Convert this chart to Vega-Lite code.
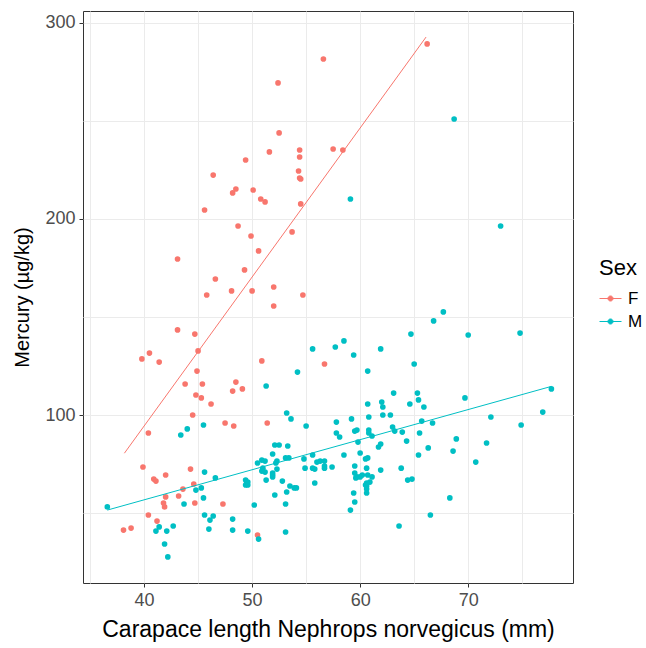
{
 "$schema": "https://vega.github.io/schema/vega-lite/v6.json",
 "width": 490, "height": 572,
 "autosize": "none",
 "padding": {"left": 83, "top": 11, "right": 73, "bottom": 65},
 "background": "white",
 "config": {
  "font": "Liberation Sans",
  "view": {"stroke": "#333333", "strokeWidth": 1},
  "axis": {"domain": false, "gridColor": "#EBEBEB", "gridWidth": 1, "tickColor": "#333333", "tickSize": 4, "labelColor": "#4D4D4D", "labelFontSize": 18, "titleFontWeight": "normal", "titleColor": "#000000", "labelPadding": 4}
 },
 "datasets": {
  "fits": [
   {"length":38.18,"mercury":80.5,"sex":"F"},{"length":66.1,"mercury":292.8,"sex":"F"},
   {"length":36.6,"mercury":51.5,"sex":"M"},{"length":77.7,"mercury":114.6,"sex":"M"}
  ],
  "points": [
  {"length":66.2,"mercury":289.3,"sex":"F"},{"length":56.6,"mercury":281.6,"sex":"F"},{"length":52.4,"mercury":269.4,"sex":"F"},{"length":52.5,"mercury":243.9,"sex":"F"},{"length":51.6,"mercury":234.2,"sex":"F"},{"length":49.4,"mercury":230.1,"sex":"F"},{"length":46.4,"mercury":222.4,"sex":"F"},{"length":48.2,"mercury":213.3,"sex":"F"},{"length":48.5,"mercury":215.3,"sex":"F"},{"length":50.1,"mercury":214.8,"sex":"F"},{"length":50.8,"mercury":210.2,"sex":"F"},{"length":51.2,"mercury":208.7,"sex":"F"},{"length":54.4,"mercury":235.2,"sex":"F"},{"length":54.4,"mercury":231.6,"sex":"F"},{"length":57.5,"mercury":235.7,"sex":"F"},{"length":58.4,"mercury":235.2,"sex":"F"},{"length":54.3,"mercury":224.5,"sex":"F"},{"length":54.4,"mercury":220.9,"sex":"F"},{"length":54.5,"mercury":220.4,"sex":"F"},{"length":45.6,"mercury":204.6,"sex":"F"},{"length":54.5,"mercury":207.7,"sex":"F"},{"length":48.7,"mercury":196.4,"sex":"F"},{"length":49.9,"mercury":191.3,"sex":"F"},{"length":50.6,"mercury":183.7,"sex":"F"},{"length":53.7,"mercury":193.4,"sex":"F"},{"length":43.1,"mercury":179.6,"sex":"F"},{"length":49.3,"mercury":174.0,"sex":"F"},{"length":46.6,"mercury":169.4,"sex":"F"},{"length":48.1,"mercury":163.3,"sex":"F"},{"length":50.0,"mercury":163.3,"sex":"F"},{"length":52.0,"mercury":165.3,"sex":"F"},{"length":45.8,"mercury":161.2,"sex":"F"},{"length":52.0,"mercury":155.6,"sex":"F"},{"length":54.7,"mercury":161.2,"sex":"F"},{"length":43.1,"mercury":143.4,"sex":"F"},{"length":44.7,"mercury":141.3,"sex":"F"},{"length":39.8,"mercury":128.6,"sex":"F"},{"length":40.5,"mercury":131.6,"sex":"F"},{"length":41.4,"mercury":127.0,"sex":"F"},{"length":45.0,"mercury":132.7,"sex":"F"},{"length":50.9,"mercury":127.6,"sex":"F"},{"length":44.9,"mercury":122.4,"sex":"F"},{"length":56.7,"mercury":126.0,"sex":"F"},{"length":43.8,"mercury":115.8,"sex":"F"},{"length":45.4,"mercury":115.8,"sex":"F"},{"length":48.5,"mercury":116.8,"sex":"F"},{"length":48.2,"mercury":112.2,"sex":"F"},{"length":49.1,"mercury":113.3,"sex":"F"},{"length":44.8,"mercury":110.2,"sex":"F"},{"length":45.3,"mercury":108.7,"sex":"F"},{"length":46.2,"mercury":105.6,"sex":"F"},{"length":44.5,"mercury":100.0,"sex":"F"},{"length":40.4,"mercury":90.8,"sex":"F"},{"length":47.5,"mercury":95.9,"sex":"F"},{"length":48.3,"mercury":94.4,"sex":"F"},{"length":51.4,"mercury":95.9,"sex":"F"},{"length":39.9,"mercury":73.5,"sex":"F"},{"length":40.9,"mercury":67.3,"sex":"F"},{"length":41.1,"mercury":66.3,"sex":"F"},{"length":42.0,"mercury":69.4,"sex":"F"},{"length":44.3,"mercury":72.4,"sex":"F"},{"length":44.6,"mercury":64.8,"sex":"F"},{"length":43.6,"mercury":62.2,"sex":"F"},{"length":42.0,"mercury":58.2,"sex":"F"},{"length":43.2,"mercury":58.7,"sex":"F"},{"length":41.8,"mercury":55.1,"sex":"F"},{"length":41.9,"mercury":53.1,"sex":"F"},{"length":44.7,"mercury":55.1,"sex":"F"},{"length":47.3,"mercury":54.6,"sex":"F"},{"length":40.4,"mercury":49.0,"sex":"F"},{"length":41.2,"mercury":45.9,"sex":"F"},{"length":38.1,"mercury":41.3,"sex":"F"},{"length":38.8,"mercury":42.3,"sex":"F"},{"length":50.5,"mercury":38.8,"sex":"F"},
  {"length":68.7,"mercury":251.0,"sex":"M"},{"length":59.1,"mercury":210.2,"sex":"M"},{"length":73.0,"mercury":196.4,"sex":"M"},{"length":67.7,"mercury":152.6,"sex":"M"},{"length":66.8,"mercury":148.0,"sex":"M"},{"length":64.7,"mercury":141.3,"sex":"M"},{"length":70.0,"mercury":140.8,"sex":"M"},{"length":74.8,"mercury":141.8,"sex":"M"},{"length":65.0,"mercury":126.0,"sex":"M"},{"length":61.9,"mercury":133.7,"sex":"M"},{"length":59.4,"mercury":130.6,"sex":"M"},{"length":58.5,"mercury":137.8,"sex":"M"},{"length":57.7,"mercury":134.7,"sex":"M"},{"length":55.6,"mercury":133.7,"sex":"M"},{"length":54.2,"mercury":121.9,"sex":"M"},{"length":60.7,"mercury":122.4,"sex":"M"},{"length":51.3,"mercury":114.8,"sex":"M"},{"length":69.7,"mercury":108.7,"sex":"M"},{"length":72.1,"mercury":99.0,"sex":"M"},{"length":74.9,"mercury":94.9,"sex":"M"},{"length":76.9,"mercury":101.5,"sex":"M"},{"length":77.7,"mercury":113.3,"sex":"M"},{"length":71.7,"mercury":85.7,"sex":"M"},{"length":70.7,"mercury":76.0,"sex":"M"},{"length":63.1,"mercury":111.2,"sex":"M"},{"length":65.3,"mercury":111.2,"sex":"M"},{"length":65.4,"mercury":107.7,"sex":"M"},{"length":65.9,"mercury":104.1,"sex":"M"},{"length":64.6,"mercury":105.6,"sex":"M"},{"length":62.0,"mercury":106.6,"sex":"M"},{"length":62.1,"mercury":104.1,"sex":"M"},{"length":60.7,"mercury":105.6,"sex":"M"},{"length":62.1,"mercury":100.0,"sex":"M"},{"length":62.8,"mercury":100.0,"sex":"M"},{"length":60.8,"mercury":99.0,"sex":"M"},{"length":65.7,"mercury":96.9,"sex":"M"},{"length":66.7,"mercury":95.9,"sex":"M"},{"length":59.2,"mercury":98.0,"sex":"M"},{"length":57.8,"mercury":96.4,"sex":"M"},{"length":59.7,"mercury":92.3,"sex":"M"},{"length":59.5,"mercury":91.8,"sex":"M"},{"length":60.8,"mercury":92.3,"sex":"M"},{"length":60.8,"mercury":90.8,"sex":"M"},{"length":63.0,"mercury":93.9,"sex":"M"},{"length":63.2,"mercury":91.8,"sex":"M"},{"length":63.9,"mercury":91.3,"sex":"M"},{"length":65.5,"mercury":90.8,"sex":"M"},{"length":57.8,"mercury":90.8,"sex":"M"},{"length":58.1,"mercury":88.8,"sex":"M"},{"length":55.0,"mercury":94.4,"sex":"M"},{"length":53.2,"mercury":101.0,"sex":"M"},{"length":53.6,"mercury":98.0,"sex":"M"},{"length":61.1,"mercury":89.3,"sex":"M"},{"length":59.8,"mercury":86.2,"sex":"M"},{"length":64.3,"mercury":86.7,"sex":"M"},{"length":68.9,"mercury":87.8,"sex":"M"},{"length":68.6,"mercury":81.6,"sex":"M"},{"length":66.3,"mercury":83.2,"sex":"M"},{"length":61.9,"mercury":85.2,"sex":"M"},{"length":61.7,"mercury":83.7,"sex":"M"},{"length":65.4,"mercury":79.6,"sex":"M"},{"length":60.0,"mercury":80.6,"sex":"M"},{"length":58.5,"mercury":79.6,"sex":"M"},{"length":60.7,"mercury":78.1,"sex":"M"},{"length":60.5,"mercury":77.6,"sex":"M"},{"length":52.1,"mercury":84.7,"sex":"M"},{"length":52.5,"mercury":84.7,"sex":"M"},{"length":51.9,"mercury":80.1,"sex":"M"},{"length":53.3,"mercury":84.2,"sex":"M"},{"length":53.1,"mercury":78.1,"sex":"M"},{"length":53.4,"mercury":78.1,"sex":"M"},{"length":52.3,"mercury":76.5,"sex":"M"},{"length":52.2,"mercury":75.5,"sex":"M"},{"length":55.6,"mercury":79.6,"sex":"M"},{"length":54.8,"mercury":77.6,"sex":"M"},{"length":56.0,"mercury":76.0,"sex":"M"},{"length":56.3,"mercury":76.5,"sex":"M"},{"length":56.7,"mercury":76.5,"sex":"M"},{"length":54.9,"mercury":72.9,"sex":"M"},{"length":55.6,"mercury":72.9,"sex":"M"},{"length":55.8,"mercury":72.4,"sex":"M"},{"length":56.7,"mercury":74.0,"sex":"M"},{"length":56.7,"mercury":72.9,"sex":"M"},{"length":57.4,"mercury":73.5,"sex":"M"},{"length":52.3,"mercury":72.4,"sex":"M"},{"length":51.9,"mercury":69.4,"sex":"M"},{"length":59.5,"mercury":74.0,"sex":"M"},{"length":60.6,"mercury":72.9,"sex":"M"},{"length":61.9,"mercury":71.9,"sex":"M"},{"length":63.8,"mercury":72.9,"sex":"M"},{"length":59.5,"mercury":70.4,"sex":"M"},{"length":59.7,"mercury":68.4,"sex":"M"},{"length":60.0,"mercury":68.4,"sex":"M"},{"length":59.6,"mercury":67.9,"sex":"M"},{"length":60.7,"mercury":69.4,"sex":"M"},{"length":61.1,"mercury":68.4,"sex":"M"},{"length":60.9,"mercury":65.8,"sex":"M"},{"length":60.6,"mercury":65.3,"sex":"M"},{"length":60.6,"mercury":63.8,"sex":"M"},{"length":60.6,"mercury":62.2,"sex":"M"},{"length":60.6,"mercury":60.2,"sex":"M"},{"length":60.2,"mercury":69.4,"sex":"M"},{"length":60.5,"mercury":64.3,"sex":"M"},{"length":64.4,"mercury":66.8,"sex":"M"},{"length":64.8,"mercury":67.3,"sex":"M"},{"length":55.8,"mercury":65.3,"sex":"M"},{"length":52.8,"mercury":66.3,"sex":"M"},{"length":53.5,"mercury":63.8,"sex":"M"},{"length":53.9,"mercury":62.8,"sex":"M"},{"length":54.1,"mercury":62.8,"sex":"M"},{"length":53.2,"mercury":60.7,"sex":"M"},{"length":52.1,"mercury":59.2,"sex":"M"},{"length":59.4,"mercury":60.2,"sex":"M"},{"length":59.5,"mercury":55.6,"sex":"M"},{"length":59.1,"mercury":51.5,"sex":"M"},{"length":53.1,"mercury":54.6,"sex":"M"},{"length":68.3,"mercury":57.7,"sex":"M"},{"length":66.5,"mercury":49.0,"sex":"M"},{"length":63.6,"mercury":43.4,"sex":"M"},{"length":53.1,"mercury":40.3,"sex":"M"},{"length":36.6,"mercury":53.1,"sex":"M"},{"length":45.5,"mercury":94.9,"sex":"M"},{"length":43.4,"mercury":89.8,"sex":"M"},{"length":44.0,"mercury":92.9,"sex":"M"},{"length":45.6,"mercury":70.9,"sex":"M"},{"length":46.6,"mercury":67.9,"sex":"M"},{"length":43.7,"mercury":54.6,"sex":"M"},{"length":44.8,"mercury":61.7,"sex":"M"},{"length":45.3,"mercury":62.8,"sex":"M"},{"length":45.5,"mercury":57.7,"sex":"M"},{"length":45.6,"mercury":49.0,"sex":"M"},{"length":46.1,"mercury":46.4,"sex":"M"},{"length":46.4,"mercury":48.5,"sex":"M"},{"length":46.0,"mercury":41.8,"sex":"M"},{"length":48.2,"mercury":46.9,"sex":"M"},{"length":48.2,"mercury":41.3,"sex":"M"},{"length":49.6,"mercury":40.8,"sex":"M"},{"length":50.6,"mercury":36.7,"sex":"M"},{"length":50.2,"mercury":54.1,"sex":"M"},{"length":49.4,"mercury":66.8,"sex":"M"},{"length":49.5,"mercury":65.3,"sex":"M"},{"length":49.6,"mercury":65.8,"sex":"M"},{"length":49.4,"mercury":64.3,"sex":"M"},{"length":49.6,"mercury":64.3,"sex":"M"},{"length":50.5,"mercury":75.5,"sex":"M"},{"length":50.9,"mercury":77.0,"sex":"M"},{"length":51.2,"mercury":76.5,"sex":"M"},{"length":51.0,"mercury":72.9,"sex":"M"},{"length":50.9,"mercury":71.4,"sex":"M"},{"length":51.2,"mercury":70.9,"sex":"M"},{"length":51.3,"mercury":66.8,"sex":"M"},{"length":51.9,"mercury":68.4,"sex":"M"},{"length":51.9,"mercury":70.4,"sex":"M"},{"length":42.7,"mercury":43.4,"sex":"M"},{"length":41.4,"mercury":42.9,"sex":"M"},{"length":41.1,"mercury":40.8,"sex":"M"},{"length":42.1,"mercury":40.8,"sex":"M"},{"length":41.9,"mercury":34.2,"sex":"M"},{"length":42.2,"mercury":27.6,"sex":"M"}
  ]
 },
 "layer": [
  {
   "data": {"name": "points"},
   "mark": {"type": "point", "filled": true, "size": 32, "opacity": 1},
   "encoding": {
    "x": {"field": "length", "type": "quantitative",
     "scale": {"domain": [34.35, 79.7], "nice": false, "zero": false},
     "axis": {"title": "Carapace length Nephrops norvegicus (mm)", "titleFontSize": 23, "titlePadding": 9,
      "values": [35,40,45,50,55,60,65,70,75],
      "labelExpr": "datum.value % 10 === 0 ? datum.label : ''",
      "tickOpacity": {"condition": {"test": "datum.value % 10 === 0", "value": 1}, "value": 0}}},
    "y": {"field": "mercury", "type": "quantitative",
     "scale": {"domain": [14.3, 306.1], "nice": false, "zero": false},
     "axis": {"title": "Mercury (µg/kg)", "titleFontSize": 20, "titlePadding": 12,
      "values": [50,100,150,200,250,300],
      "labelExpr": "datum.value % 100 === 0 ? datum.label : ''",
      "tickOpacity": {"condition": {"test": "datum.value % 100 === 0", "value": 1}, "value": 0}}},
    "color": {"field": "sex", "type": "nominal",
     "scale": {"domain": ["F", "M"], "range": ["#F8766D", "#00BFC4"]},
     "legend": {"orient": "none", "legendX": 516, "legendY": 247, "title": "Sex",
      "titleFontSize": 22, "titleFontWeight": "normal", "titleColor": "#000000",
      "labelFontSize": 17, "labelColor": "#000000",
      "symbolType": "M-1,0H1M-0.23,0A0.23,0.23,0,1,0,0.23,0A0.23,0.23,0,1,0,-0.23,0Z",
      "symbolSize": 484, "symbolStrokeWidth": 1, "labelOffset": 6, "rowPadding": 3, "titlePadding": 7,
      "encode": {"symbols": {"update": {"stroke": {"scale": "color", "field": "value"}}}}}}
   }
  },
  {
   "data": {"name": "fits"},
   "mark": {"type": "line", "strokeWidth": 1},
   "encoding": {
    "x": {"field": "length", "type": "quantitative"},
    "y": {"field": "mercury", "type": "quantitative"},
    "detail": {"field": "sex", "type": "nominal"},
    "stroke": {"field": "sex", "type": "nominal",
     "scale": {"domain": ["F", "M"], "range": ["#F8766D", "#00BFC4"]}, "legend": null}
   }
  }
 ]
}
